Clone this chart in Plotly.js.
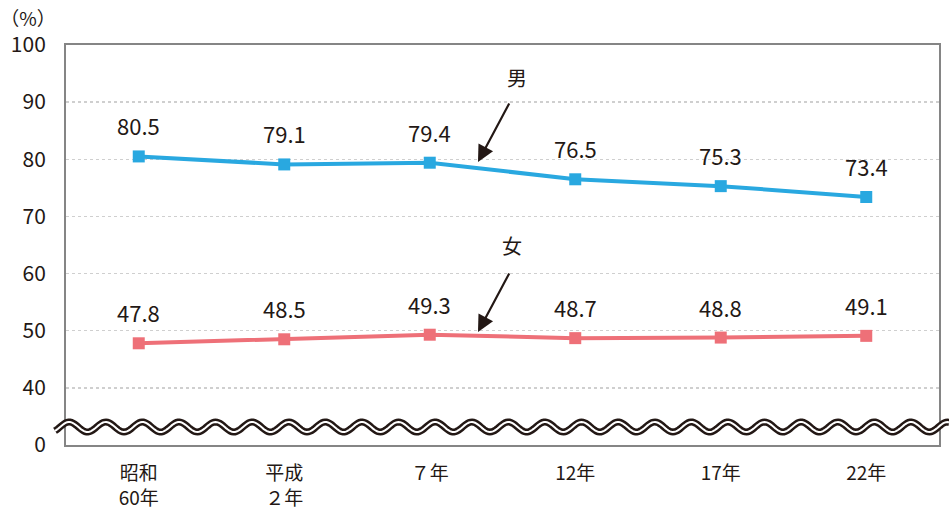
<!DOCTYPE html>
<html>
<head>
<meta charset="utf-8">
<script src="https://cdn.plot.ly/plotly-3.0.1.min.js"></script>
<style>html,body{margin:0;padding:0;background:#fff;}#chart{width:949px;height:514px;}</style>
</head>
<body>
<div id="chart"></div>
<script>
// ---- data ----
const categories = ['昭和<br>60年', '平成<br>２年', '７年', '12年', '17年', '22年'];
const maleValues = [80.5, 79.1, 79.4, 76.5, 75.3, 73.4];
const femaleValues = [47.8, 48.5, 49.3, 48.7, 48.8, 49.1];
const yTickVals = [30, 40, 50, 60, 70, 80, 90, 100];
const yTickText = ['0', '40', '50', '60', '70', '80', '90', '100'];
const maleName = '男';
const femaleName = '女';
const unitLabel = '（%）';

// ---- styling ----
const W = 949, H = 514;
const L = 66, R = 10, T = 45, B = 69;
const plotW = W - L - R, plotH = H - T - B;
const numFont = "'Noto Sans CJK JP', 'DejaVu Sans', sans-serif";
const jpFont = "'Noto Sans CJK JP', sans-serif";
const textColor = '#231815';
const maleColor = '#29A8E0';
const femaleColor = '#EE7078';

const xIdx = categories.map((c, i) => i);

const traces = [
  {x: xIdx, y: maleValues, name: maleName, type: 'scatter', mode: 'lines+markers',
   line: {color: maleColor, width: 4}, marker: {symbol: 'square', size: 12, color: maleColor}},
  {x: xIdx, y: femaleValues, name: femaleName, type: 'scatter', mode: 'lines+markers',
   line: {color: femaleColor, width: 4}, marker: {symbol: 'square', size: 12, color: femaleColor}}
];

const annotations = [];
[maleValues, femaleValues].forEach(vals => {
  vals.forEach((v, i) => {
    annotations.push({x: i, y: v, xref: 'x', yref: 'y', text: v.toFixed(1), showarrow: false,
      yshift: 31, font: {family: numFont, size: 22, color: textColor}});
  });
});
// arrows + series labels
function px2x(px){ return (px - L) / plotW * 6 - 0.5; }
function py2y(py){ return 100 - (py - T) / plotH * 70; }
[[478, 162, 517, 77, maleName], [478, 332, 512, 245, femaleName]].forEach(a => {
  annotations.push({x: px2x(a[0]), y: py2y(a[1]), xref: 'x', yref: 'y', text: '', showarrow: true,
    ax: 32, ay: -60, arrowhead: 2, arrowsize: 1.5, arrowwidth: 2.2, arrowcolor: textColor, standoff: 0});
  annotations.push({x: px2x(a[2]), y: py2y(a[3]), xref: 'x', yref: 'y', text: a[4], showarrow: false,
    font: {family: jpFont, size: 20, color: textColor}});
});

// axis break wave (decoration)
function wavePath(){
  const period = 36.6, amp = 5, cy = 427;
  let d = '';
  for (let px = 55; px <= 949; px += 1.5) {
    const py = cy - amp * Math.sin((px - 60) / period * 2 * Math.PI);
    const xp = (px - L) / plotW, yp = (H - B - py) / plotH;
    d += (d ? ' L ' : 'M ') + xp.toFixed(5) + ',' + yp.toFixed(5);
  }
  return d;
}
const wp = wavePath();
const shapes = [
  {type: 'path', path: wp, xref: 'paper', yref: 'paper', layer: 'above', line: {color: '#231815', width: 7}},
  {type: 'path', path: wp, xref: 'paper', yref: 'paper', layer: 'above', line: {color: '#ffffff', width: 2}}
];

const layout = {
  width: W, height: H,
  margin: {l: L, r: R, t: T, b: B},
  paper_bgcolor: '#fff', plot_bgcolor: '#fff',
  showlegend: false,
  title: {text: unitLabel, x: 28 / W, y: 1 - 19 / H, xref: 'container', yref: 'container',
    xanchor: 'center', yanchor: 'middle', font: {family: jpFont, size: 19, color: textColor}},
  xaxis: {
    range: [-0.5, 5.5], tickmode: 'array', tickvals: xIdx, ticktext: categories,
    showgrid: false, zeroline: false, showline: true, mirror: true,
    linecolor: '#858585', linewidth: 2, ticks: '', ticklabelstandoff: 10,
    tickfont: {family: jpFont, size: 19, color: textColor}, fixedrange: true
  },
  yaxis: {
    range: [30, 100], tickmode: 'array', tickvals: yTickVals, ticktext: yTickText,
    showgrid: true, gridcolor: '#cfcfcf', griddash: 'dot', gridwidth: 1.5,
    zeroline: false, showline: true, mirror: true, linecolor: '#858585', linewidth: 2,
    ticks: '', ticklabelstandoff: 14,
    tickfont: {family: numFont, size: 21, color: textColor}, fixedrange: true
  },
  annotations: annotations,
  shapes: shapes
};

Plotly.newPlot('chart', traces, layout, {displayModeBar: false, staticPlot: true});
</script>
</body>
</html>
